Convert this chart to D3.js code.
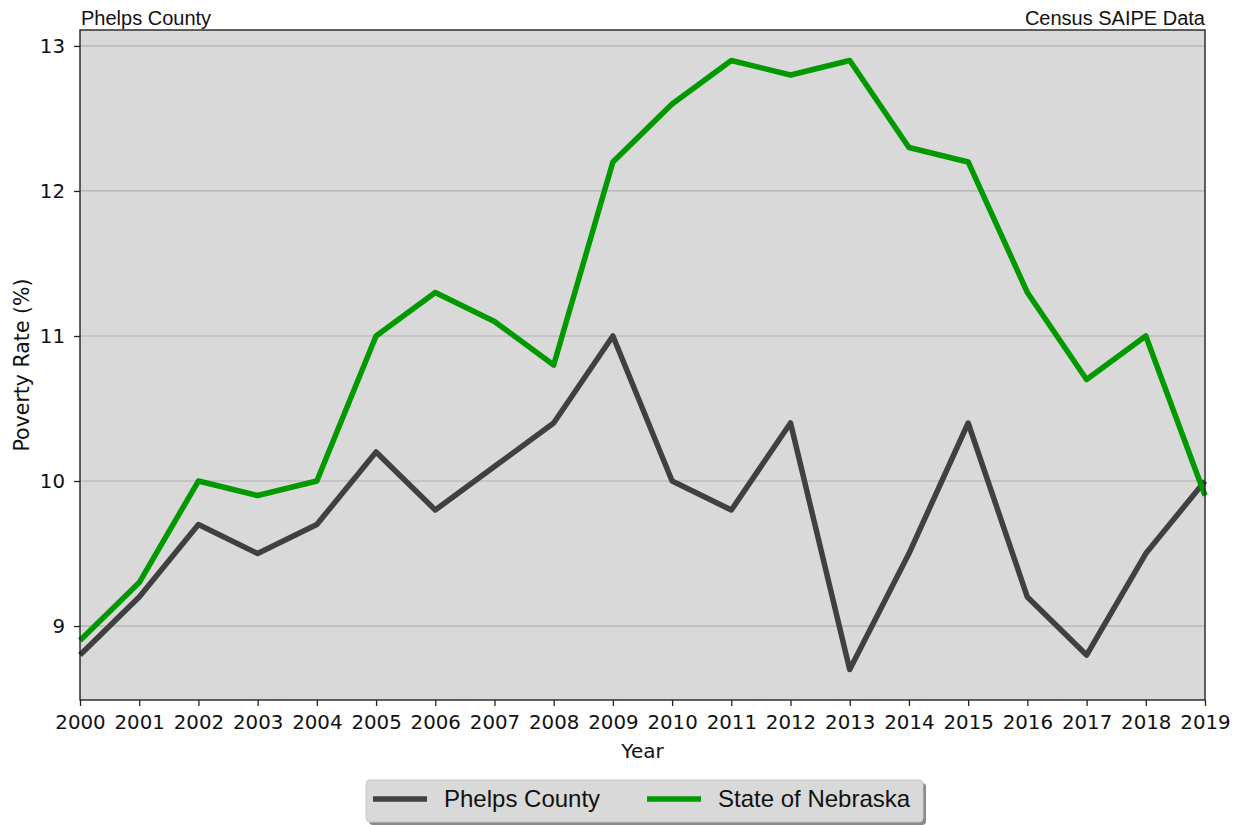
<!DOCTYPE html>
<html><head><meta charset="utf-8">
<script src="https://cdn.jsdelivr.net/npm/d3@7"></script>
<style>body{margin:0;background:#fff}svg{display:block}</style>
</head><body>
<svg id="c" width="1242" height="825"></svg>
<script>
const years = [2000,2001,2002,2003,2004,2005,2006,2007,2008,2009,2010,2011,2012,2013,2014,2015,2016,2017,2018,2019];
const phelps = [8.8,9.2,9.7,9.5,9.7,10.2,9.8,10.1,10.4,11.0,10.0,9.8,10.4,8.7,9.5,10.4,9.2,8.8,9.5,10.0];
const nebraska = [8.9,9.3,10.0,9.9,10.0,11.0,11.3,11.1,10.8,12.2,12.6,12.9,12.8,12.9,12.3,12.2,11.3,10.7,11.0,9.9];
const yTicks = [9,10,11,12,13];
const seriesNames = ["Phelps County","State of Nebraska"];
const colors = ["#404040","#009900"];

const svg = d3.select("#c");
const L=80,R=1205,T=30,B=700;
const x = d3.scaleLinear().domain([2000,2019]).range([L,R]);
const y = d3.scaleLinear().domain([8.49,13.11]).range([B,T]);
const tickFont = "'DejaVu Sans', sans-serif";
const textFont = "'Liberation Sans', Arial, sans-serif";

svg.append("rect").attr("x",L).attr("y",T).attr("width",R-L).attr("height",B-T).attr("fill","#d9d9d9");
svg.append("g").selectAll("line").data(yTicks).join("line")
  .attr("x1",L).attr("x2",R).attr("y1",d=>y(d)).attr("y2",d=>y(d))
  .attr("stroke","#b0b0b0").attr("stroke-width",1.2);

const xAxis = svg.append("g").attr("transform",`translate(0,${B})`)
  .call(d3.axisBottom(x).tickValues(years).tickFormat(d3.format("d")).tickSize(6).tickPadding(9));
const yAxis = svg.append("g").attr("transform",`translate(${L},0)`)
  .call(d3.axisLeft(y).tickValues(yTicks).tickFormat(d3.format("d")).tickSize(6).tickPadding(9));
[xAxis,yAxis].forEach(a=>{
  a.select(".domain").remove();
  a.selectAll("line").attr("stroke","#222").attr("stroke-width",1.3);
  a.selectAll("text").attr("font-family",tickFont).attr("font-size",19.8).attr("fill","#111");
});

svg.append("defs").append("clipPath").attr("id","clip").append("rect")
  .attr("x",L-3).attr("y",T).attr("width",R-L+6).attr("height",B-T);
const line = d3.line().x((d,i)=>x(years[i])).y(d=>y(d));
[phelps,nebraska].forEach((s,k)=>{
  svg.append("path").attr("d",line(s)).attr("fill","none").attr("stroke",colors[k])
    .attr("stroke-width",5.5).attr("stroke-linejoin","round").attr("clip-path","url(#clip)");
});

svg.append("rect").attr("x",L).attr("y",T).attr("width",R-L).attr("height",B-T)
  .attr("fill","none").attr("stroke","#222").attr("stroke-width",1.4);

svg.append("text").attr("x",L+1).attr("y",25).attr("font-family",textFont).attr("font-size",20).attr("fill","#111").text("Phelps County");
svg.append("text").attr("x",R).attr("y",25).attr("text-anchor","end").attr("font-family",textFont).attr("font-size",20).attr("fill","#111").text("Census SAIPE Data");

svg.append("text").attr("x",(L+R)/2).attr("y",758).attr("text-anchor","middle").attr("font-family",tickFont).attr("font-size",20).attr("fill","#111").text("Year");
svg.append("text").attr("transform",`translate(29,${(T+B)/2}) rotate(-90)`).attr("text-anchor","middle").attr("font-family",tickFont).attr("font-size",20.5).attr("fill","#111").text("Poverty Rate (%)");

// legend
const lg = svg.append("g");
lg.append("rect").attr("x",369).attr("y",783).attr("width",557).attr("height",42).attr("rx",4).attr("fill","#8a8a8a");
lg.append("rect").attr("x",366).attr("y",780).attr("width",557).attr("height",42).attr("rx",4).attr("fill","#d9d9d9").attr("stroke","#c8c8c8");
const lx = [373,647];
seriesNames.forEach((n,k)=>{
  lg.append("line").attr("x1",lx[k]).attr("x2",lx[k]+54).attr("y1",799).attr("y2",799).attr("stroke",colors[k]).attr("stroke-width",5.5);
  lg.append("text").attr("x",lx[k]+71).attr("y",807).attr("font-family",textFont).attr("font-size",24).attr("fill","#111").text(n);
});
</script>
</body></html>
